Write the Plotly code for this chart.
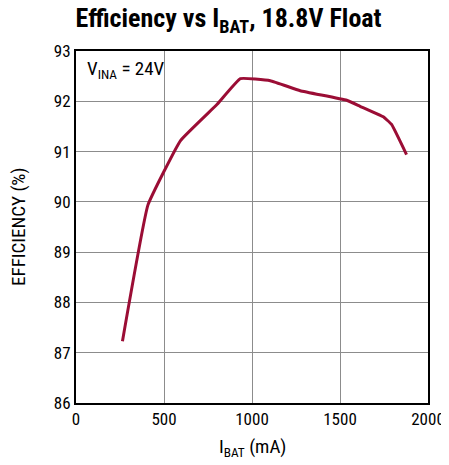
import plotly.graph_objects as go

i_bat = [264, 409, 594, 802, 934, 1104, 1274, 1538, 1614, 1746, 1793, 1878]
efficiency = [87.23, 89.94, 91.22, 91.94, 92.45, 92.41, 92.21, 92.02, 91.90, 91.69, 91.54, 90.94]

x_ticks = [0, 500, 1000, 1500, 2000]
y_ticks = [86, 87, 88, 89, 90, 91, 92, 93]

FONT = "Liberation Sans Narrow, Roboto Condensed, Arial Narrow, sans-serif"

fig = go.Figure()
fig.add_trace(go.Scatter(x=i_bat, y=efficiency, mode="lines",
                         line=dict(color="#9b0d35", width=3, shape="spline", smoothing=0.3),
                         hoverinfo="skip", showlegend=False))

fig.update_layout(
    width=441, height=457,
    margin=dict(l=68, r=21, t=43, b=62, autoexpand=False),
    paper_bgcolor="white", plot_bgcolor="white",
    font=dict(family=FONT, size=17, color="black"),
    title=dict(text="<b>Efficiency vs I<sub>BAT</sub>, 18.8V Float</b>",
               x=0.5, xanchor="center", y=0.978, yanchor="middle",
               font=dict(family=FONT, size=26, color="black")),
    annotations=[
        dict(text="V<sub>INA</sub> = 24V", x=0.025, y=0.99, xref="paper", yref="paper",
             xanchor="left", yanchor="top", showarrow=False,
             font=dict(family=FONT, size=19, color="black")),
        dict(text="EFFICIENCY (%)", x=-0.165, y=0.5, xref="paper", yref="paper",
             xanchor="center", yanchor="middle", textangle=-90, showarrow=False,
             font=dict(family=FONT, size=19, color="black")),
        dict(text="I<sub>BAT</sub> (mA)", x=0.5, y=-0.085, xref="paper", yref="paper",
             xanchor="center", yanchor="top", showarrow=False,
             font=dict(family=FONT, size=19, color="black")),
    ],
)
fig.update_xaxes(range=[0, 2000], tickvals=x_ticks, ticks="", showgrid=True, gridcolor="#8c8c8c",
                 gridwidth=1, showline=True, linecolor="black", linewidth=2, mirror=True,
                 zeroline=False, automargin=False, tickfont=dict(size=17))
fig.update_yaxes(range=[86, 93], tickvals=y_ticks, ticks="", showgrid=True, gridcolor="#8c8c8c",
                 gridwidth=1, showline=True, linecolor="black", linewidth=2, mirror=True,
                 zeroline=False, automargin=False, tickfont=dict(size=17))

fig.write_html("out.html")
